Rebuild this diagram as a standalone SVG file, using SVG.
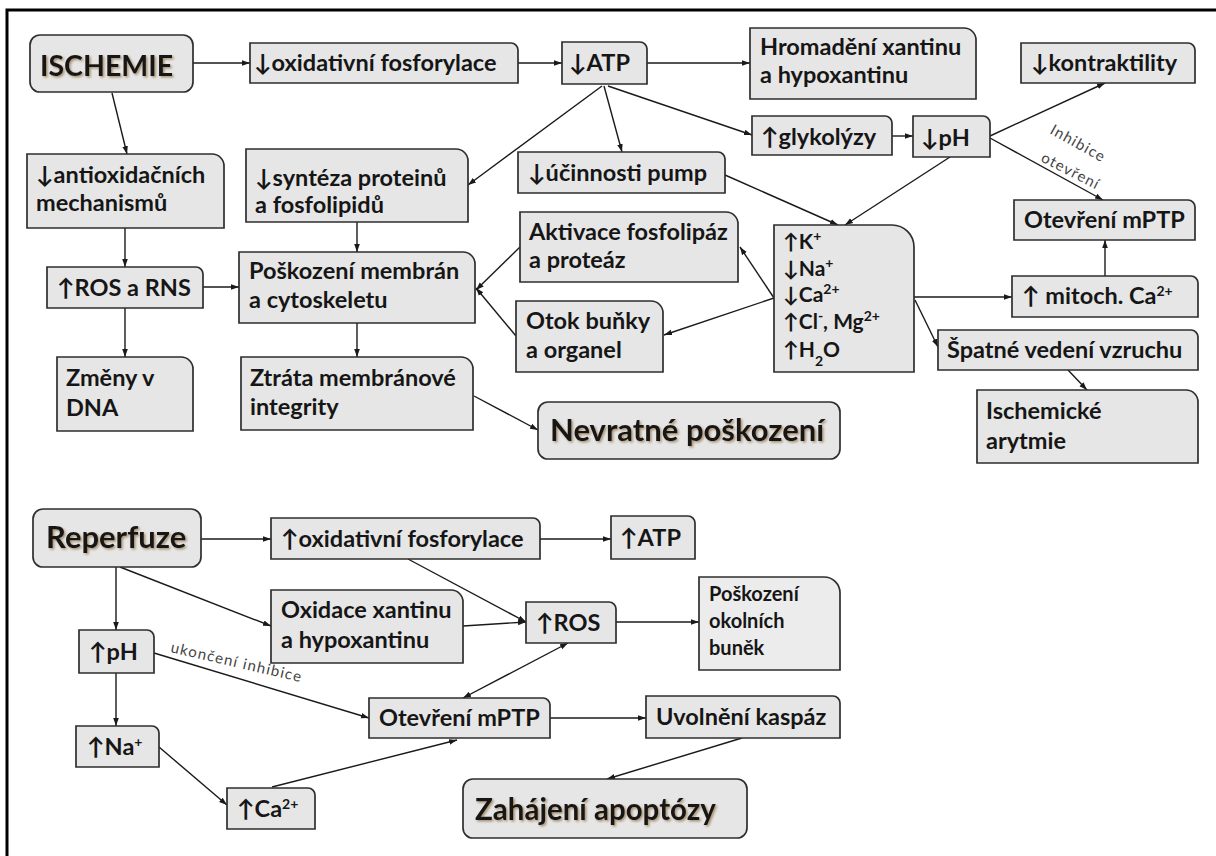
<svg xmlns="http://www.w3.org/2000/svg" width="1216" height="856" viewBox="0 0 1216 856">
<defs>
<marker id="a" viewBox="0 0 10 10" refX="10" refY="5" markerWidth="8" markerHeight="8" markerUnits="userSpaceOnUse" orient="auto-start-reverse"><path d="M0,1.5 L10,5 L0,8.5 z" fill="#1a1a1a"/></marker>
<filter id="sh" x="-10%" y="-20%" width="130%" height="150%"><feDropShadow dx="1.5" dy="1.5" stdDeviation="1" flood-color="#8a6a40" flood-opacity="0.7"/></filter>
</defs>
<style>
.b{fill:#e6e6e6;stroke:#2e2e2e;stroke-width:1.7}
.t{font-family:Lato,"DejaVu Sans",sans-serif;font-weight:bold;font-size:23.5px;fill:#161616}
.T{font-size:31px;filter:url(#sh)}
.s{font-size:21px}
.l{font-family:Lato,"DejaVu Sans",sans-serif;font-size:15px;letter-spacing:1.2px;fill:#444}
.c line{stroke:#1a1a1a;stroke-width:1.4;marker-end:url(#a)}
.sup{font-size:14px}
</style>
<rect width="1216" height="856" fill="#fff"/>
<path d="M7 856 V10 H1216" fill="none" stroke="#000" stroke-width="3"/>

<g class="c" id="connectors">
<line x1="193" y1="63" x2="250" y2="63"/>
<line x1="518" y1="63" x2="562" y2="63"/>
<line x1="647" y1="63" x2="750" y2="63"/>
<line x1="112" y1="93" x2="127" y2="154"/>
<line x1="602" y1="86" x2="468" y2="185"/>
<line x1="604" y1="86" x2="622" y2="152"/>
<line x1="608" y1="86" x2="752" y2="135"/>
<line x1="892" y1="136" x2="913" y2="136"/>
<line x1="990" y1="136" x2="1105" y2="83"/>
<line x1="990" y1="138" x2="1103" y2="200"/>
<line x1="950" y1="157" x2="845" y2="225"/>
<line x1="725" y1="175" x2="838" y2="225"/>
<line x1="125" y1="228" x2="125" y2="267"/>
<line x1="203" y1="287" x2="239" y2="287"/>
<line x1="125" y1="308" x2="125" y2="357"/>
<line x1="357" y1="222" x2="357" y2="252"/>
<line x1="357" y1="323" x2="357" y2="357"/>
<line x1="474" y1="396" x2="538" y2="430"/>
<line x1="520" y1="247" x2="476" y2="290"/>
<line x1="516" y1="336" x2="476" y2="288"/>
<line x1="774" y1="298" x2="740" y2="247"/>
<line x1="774" y1="298" x2="664" y2="335"/>
<line x1="914" y1="297" x2="1012" y2="297"/>
<line x1="915" y1="300" x2="938" y2="347"/>
<line x1="1105" y1="276" x2="1105" y2="240"/>
<line x1="1068" y1="370" x2="1087" y2="390"/>
<line x1="201" y1="539" x2="271" y2="539"/>
<line x1="540" y1="539" x2="611" y2="539"/>
<line x1="120" y1="567" x2="271" y2="626"/>
<line x1="116" y1="567" x2="116" y2="630"/>
<line x1="408" y1="559" x2="526" y2="622"/>
<line x1="463" y1="626" x2="526" y2="622"/>
<line x1="616" y1="622" x2="699" y2="622"/>
<line x1="568" y1="643" x2="463" y2="698" marker-start="url(#a)"/>
<line x1="154" y1="653" x2="369" y2="718"/>
<line x1="116" y1="673" x2="116" y2="726"/>
<line x1="159" y1="747" x2="227" y2="805"/>
<line x1="272" y1="787" x2="457" y2="740"/>
<line x1="550" y1="718" x2="646" y2="718"/>
<line x1="742" y1="738" x2="607" y2="779"/>
</g>

<g id="labels">
<text class="l" transform="translate(1049 133) rotate(29)">Inhibice</text>
<text class="l" transform="translate(1040 161) rotate(27)">otevření</text>
<text class="l" transform="translate(170 652) rotate(13)">ukončení inhibice</text>
</g>

<g id="ischemie"><rect class="b" x="30" y="35" width="163" height="57" rx="10"/><text class="t T" x="40" y="76" style="font-size:28.5px">ISCHEMIE</text></g>
<g id="oxfos-down"><path class="b" d="M250 43 H511 A7 7 0 0 1 518 50 V83 H250 Z"/><text class="t" x="254" y="71">↓oxidativní fosforylace</text></g>
<g id="atp-down"><path class="b" d="M562 42 H640 A7 7 0 0 1 647 49 V84 H562 Z"/><text class="t" x="569" y="71">↓ATP</text></g>
<g id="hromadeni"><path class="b" d="M750 28 H964 A12 12 0 0 1 976 40 V99 H750 Z"/><text class="t" x="760" y="55">Hromadění xantinu</text><text class="t" x="760" y="83">a hypoxantinu</text></g>
<g id="kontraktilita"><path class="b" d="M1021 43 H1188 A7 7 0 0 1 1195 50 V83 H1021 Z"/><text class="t" x="1031" y="71">↓kontraktility</text></g>
<g id="glykolyza"><path class="b" d="M752 116 H885 A7 7 0 0 1 892 123 V155 H752 Z"/><text class="t" x="761" y="145">↑glykolýzy</text></g>
<g id="ph-down"><path class="b" d="M913 116 H983 A7 7 0 0 1 990 123 V157 H913 Z"/><text class="t" x="921" y="146">↓pH</text></g>
<g id="antioxid"><path class="b" d="M27 154 H212 A12 12 0 0 1 224 166 V228 H27 Z"/><text class="t" x="36" y="183">↓antioxidačních</text><text class="t" x="36" y="211">mechanismů</text></g>
<g id="synteza"><path class="b" d="M246 149 H456 A12 12 0 0 1 468 161 V222 H246 Z"/><text class="t" x="255" y="186">↓syntéza proteinů</text><text class="t" x="255" y="213">a fosfolipidů</text></g>
<g id="pumpy"><path class="b" d="M518 152 H718 A7 7 0 0 1 725 159 V193 H518 Z"/><text class="t" x="528" y="181">↓účinnosti pump</text></g>
<g id="aktivace"><path class="b" d="M520 212 H726 A12 12 0 0 1 738 224 V282 H520 Z"/><text class="t" x="529" y="240">Aktivace fosfolipáz</text><text class="t" x="529" y="268">a proteáz</text></g>
<g id="otok"><path class="b" d="M516 301 H651 A12 12 0 0 1 663 313 V372 H516 Z"/><text class="t" x="526" y="329">Otok buňky</text><text class="t" x="526" y="358">a organel</text></g>
<g id="ionty"><path class="b" d="M774 225 H892 A22 22 0 0 1 914 247 V372 H774 Z"/>
<text class="t s" x="783" y="249">↑K<tspan class="sup" baseline-shift="super">+</tspan></text>
<text class="t s" x="783" y="276">↓Na<tspan class="sup" baseline-shift="super">+</tspan></text>
<text class="t s" x="783" y="302">↓Ca<tspan class="sup" baseline-shift="super">2+</tspan></text>
<text class="t s" x="783" y="329">↑Cl<tspan class="sup" baseline-shift="super">-</tspan>, Mg<tspan class="sup" baseline-shift="super">2+</tspan></text>
<text class="t s" x="783" y="357">↑H<tspan class="sup" baseline-shift="sub">2</tspan>O</text></g>
<g id="mptp-top"><path class="b" d="M1014 200 H1188 A7 7 0 0 1 1195 207 V240 H1014 Z"/><text class="t" x="1024" y="228">Otevření mPTP</text></g>
<g id="mitoch-ca"><path class="b" d="M1012 276 H1191 A7 7 0 0 1 1198 283 V317 H1012 Z"/><text class="t" x="1022" y="304">↑ mitoch. Ca<tspan class="sup" font-size="16" baseline-shift="super">2+</tspan></text></g>
<g id="spatne-vedeni"><path class="b" d="M938 330 H1191 A7 7 0 0 1 1198 337 V370 H938 Z"/><text class="t" x="947" y="358">Špatné vedení vzruchu</text></g>
<g id="arytmie"><path class="b" d="M977 390 H1186 A12 12 0 0 1 1198 402 V463 H977 Z"/><text class="t" x="986" y="419">Ischemické</text><text class="t" x="986" y="449">arytmie</text></g>
<g id="ros-rns"><path class="b" d="M47 267 H196 A7 7 0 0 1 203 274 V308 H47 Z"/><text class="t" x="57" y="296">↑ROS a RNS</text></g>
<g id="poskozeni-membran"><path class="b" d="M239 252 H463 A12 12 0 0 1 475 264 V323 H239 Z"/><text class="t" x="249" y="279">Poškození membrán</text><text class="t" x="249" y="308">a cytoskeletu</text></g>
<g id="dna"><path class="b" d="M57 357 H181 A12 12 0 0 1 193 369 V431 H57 Z"/><text class="t" x="66" y="386">Změny v</text><text class="t" x="66" y="416">DNA</text></g>
<g id="ztrata"><path class="b" d="M241 357 H461 A12 12 0 0 1 473 369 V430 H241 Z"/><text class="t" x="250" y="386">Ztráta  membránové</text><text class="t" x="250" y="415">integrity</text></g>
<g id="nevratne"><rect class="b" x="538" y="402" width="302" height="57" rx="10"/><text class="t T" x="550" y="441">Nevratné poškození</text></g>

<g id="reperfuze"><rect class="b" x="33" y="509" width="168" height="58" rx="10"/><text class="t T" x="46" y="548">Reperfuze</text></g>
<g id="oxfos-up"><path class="b" d="M271 518 H533 A7 7 0 0 1 540 525 V559 H271 Z"/><text class="t" x="281" y="547">↑oxidativní fosforylace</text></g>
<g id="atp-up"><path class="b" d="M611 516 H688 A7 7 0 0 1 695 523 V559 H611 Z"/><text class="t" x="620" y="546">↑ATP</text></g>
<g id="oxidace"><path class="b" d="M271 590 H451 A12 12 0 0 1 463 602 V663 H271 Z"/><text class="t" x="281" y="618">Oxidace xantinu</text><text class="t" x="281" y="648">a hypoxantinu</text></g>
<g id="ros-up"><path class="b" d="M526 602 H609 A7 7 0 0 1 616 609 V643 H526 Z"/><text class="t" x="536" y="631">↑ROS</text></g>
<g id="okolni"><path class="b" d="M699 577 H824 A16 16 0 0 1 840 593 V670 H699 Z" style="fill:#ececec"/><text class="t" style="font-size:20px" x="709" y="601">Poškození</text><text class="t" style="font-size:20px" x="709" y="628">okolních</text><text class="t" style="font-size:20px" x="709" y="655">buněk</text></g>
<g id="ph-up"><path class="b" d="M79 630 H147 A7 7 0 0 1 154 637 V673 H79 Z"/><text class="t" x="89" y="660">↑pH</text></g>
<g id="mptp-bottom"><path class="b" d="M369 698 H543 A7 7 0 0 1 550 705 V738 H369 Z"/><text class="t" x="379" y="726">Otevření mPTP</text></g>
<g id="kaspazy"><path class="b" d="M646 696 H833 A7 7 0 0 1 840 703 V738 H646 Z"/><text class="t" x="656" y="725">Uvolnění kaspáz</text></g>
<g id="na-up"><path class="b" d="M76 726 H152 A7 7 0 0 1 159 733 V767 H76 Z"/><text class="t" x="87" y="755">↑Na<tspan class="sup" font-size="16" baseline-shift="super">+</tspan></text></g>
<g id="ca-up"><path class="b" d="M227 788 H308 A7 7 0 0 1 315 795 V829 H227 Z"/><text class="t" x="237" y="817">↑Ca<tspan class="sup" font-size="16" baseline-shift="super">2+</tspan></text></g>
<g id="apoptoza"><rect class="b" x="463" y="779" width="284" height="59" rx="10"/><text class="t T" x="475" y="820" style="font-size:29.5px">Zahájení apoptózy</text></g>
</svg>
